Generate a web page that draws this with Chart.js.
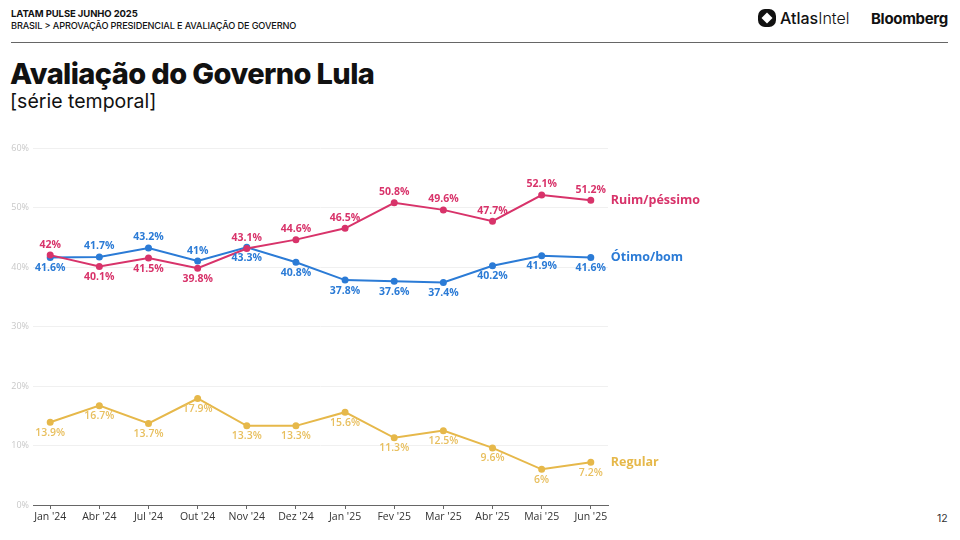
<!DOCTYPE html>
<html>
<head>
<meta charset="utf-8">
<script src="https://cdn.jsdelivr.net/npm/chart.js@4.4.1/dist/chart.umd.min.js"></script>
<style>
  html,body{margin:0;padding:0;background:#fff;}
  .pagina{position:relative;width:960px;height:540px;overflow:hidden;font-family:Inter,"Noto Sans",sans-serif;color:#111;}
  .topo1{position:absolute;left:11px;top:8px;font-size:9.5px;font-weight:700;letter-spacing:-0.1px;}
  .topo2{position:absolute;left:11px;top:20px;font-size:9.2px;font-weight:500;letter-spacing:-0.15px;}
  .linha{position:absolute;left:11px;top:42px;width:937px;height:1px;background:#666;}
  .atlas{position:absolute;left:757px;top:8px;display:flex;align-items:center;font-size:16px;}
  .atlas b{font-weight:500;}
  .atlas span{font-weight:300;}
  .bloom{position:absolute;left:871px;top:9px;font-size:15px;font-weight:700;letter-spacing:-0.3px;}
  .titulo{position:absolute;left:10px;top:56px;font-size:29px;font-weight:800;letter-spacing:-0.6px;}
  .sub{position:absolute;left:10px;top:89px;font-size:19.5px;font-weight:400;}
  .pag{position:absolute;left:937px;top:512px;font-size:10.5px;color:#333;}
  canvas{position:absolute;left:0;top:0;}
</style>
</head>
<body>
<div class="pagina">
  <div class="topo1">LATAM PULSE JUNHO 2025</div>
  <div class="topo2">BRASIL &gt; APROVAÇÃO PRESIDENCIAL E AVALIAÇÃO DE GOVERNO</div>
  <div class="linha"></div>
  <div class="atlas">
    <svg width="20" height="20" viewBox="0 0 20 20" style="margin-right:3px">
      <rect x="1" y="1" width="18" height="18" rx="7" fill="#111"/>
      <path d="M10 4.5 L15.5 10 L10 15.5 L4.5 10 Z" fill="#fff"/>
    </svg>
    <b>Atlas</b><span>Intel</span>
  </div>
  <div class="bloom">Bloomberg</div>
  <div class="titulo">Avaliação do Governo Lula</div>
  <div class="sub">[série temporal]</div>
  <div class="pag">12</div>
  <canvas id="grafico" width="960" height="540"></canvas>
</div>
<script>
// dados
const meses = ["Jan '24","Abr '24","Jul '24","Out '24","Nov '24","Dez '24","Jan '25","Fev '25","Mar '25","Abr '25","Mai '25","Jun '25"];
const ruimPessimo = [42,40.1,41.5,39.8,43.1,44.6,46.5,50.8,49.6,47.7,52.1,51.2];
const otimoBom = [41.6,41.7,43.2,41,43.3,40.8,37.8,37.6,37.4,40.2,41.9,41.6];
const regular = [13.9,16.7,13.7,17.9,13.3,13.3,15.6,11.3,12.5,9.6,6,7.2];
const ticksY = [0,10,20,30,40,50,60];
const nomesSeries = ["Ruim/péssimo","Ótimo/bom","Regular"];
// rotulo acima (1) ou abaixo (-1) do ponto
const ladoRuim = [1,-1,-1,-1,1,1,1,1,1,1,1,1];
const ladoOtimo = [-1,1,1,1,-1,-1,-1,-1,-1,-1,-1,-1];
const ladoRegular = [-1,-1,-1,-1,-1,-1,-1,-1,-1,-1,-1,-1];

const cores = ["#d8336a","#2b7bd6","#e6b84a"];
const coresRotulo = ["#d8336a","#2b7bd6","#e8bf5e"];

const pontos = (arr)=>arr.map((v,i)=>({x:i,y:v}));

const rotulos = {
  id:'rotulos',
  afterDatasetsDraw(chart){
    const ctx = chart.ctx;
    const lados = [ladoRuim,ladoOtimo,ladoRegular];
    ctx.save();
    chart.data.datasets.forEach((ds,d)=>{
      const meta = chart.getDatasetMeta(d);
      ctx.fillStyle = coresRotulo[d];
      ctx.font = (d==2 ? '600 ' : '700 ') + '10.5px "Open Sans"';
      ctx.textAlign = 'center';
      ctx.textBaseline = 'middle';
      meta.data.forEach((p,i)=>{
        ctx.fillText(ds.data[i].y + '%', p.x, p.y - lados[d][i]*10.5);
      });
      const ult = meta.data[meta.data.length-1];
      ctx.fillStyle = cores[d];
      ctx.font = '700 12.5px "Open Sans"';
      ctx.textAlign = 'left';
      ctx.fillText(nomesSeries[d], ult.x + 20, ult.y);
    });
    ctx.restore();
  }
};

const serie = (nome,arr,cor)=>({
  label:nome,
  data:pontos(arr),
  borderColor:cor,
  backgroundColor:cor,
  borderWidth:2,
  pointRadius:2.5,
  pointHoverRadius:2.5,
  tension:0
});

new Chart(document.getElementById('grafico').getContext('2d'),{
  type:'line',
  data:{
    datasets:[
      serie(nomesSeries[0],ruimPessimo,cores[0]),
      serie(nomesSeries[1],otimoBom,cores[1]),
      serie(nomesSeries[2],regular,cores[2])
    ]
  },
  options:{
    responsive:false,
    animation:false,
    layout:{padding:{top:148,left:0,right:352,bottom:0}},
    plugins:{legend:{display:false},tooltip:{enabled:false}},
    scales:{
      x:{
        type:'linear',
        min:-0.35,
        max:meses.length-1+0.35,
        afterBuildTicks:(s)=>{ s.ticks = meses.map((_,i)=>({value:i})); },
        afterFit:(s)=>{ s.height = 35; },
        ticks:{
          callback:(v)=>meses[v],
          color:'#333',
          font:{family:'"Open Sans"',size:10.5},
          padding:2,
          maxRotation:0,
          autoSkip:false
        },
        grid:{drawOnChartArea:false,drawTicks:true,tickLength:4,tickColor:'#666'},
        border:{display:true,color:'#666'}
      },
      y:{
        min:ticksY[0],
        max:ticksY[ticksY.length-1],
        afterBuildTicks:(s)=>{ s.ticks = ticksY.map(v=>({value:v})); },
        afterFit:(s)=>{ s.width = 33; },
        ticks:{
          callback:(v)=>v+'%',
          color:'#c8c8c8',
          font:{family:'"Open Sans"',size:9},
          padding:4
        },
        grid:{color:'#f0f0f0',drawTicks:false},
        border:{display:false}
      }
    }
  },
  plugins:[rotulos]
});
</script>
</body>
</html>
